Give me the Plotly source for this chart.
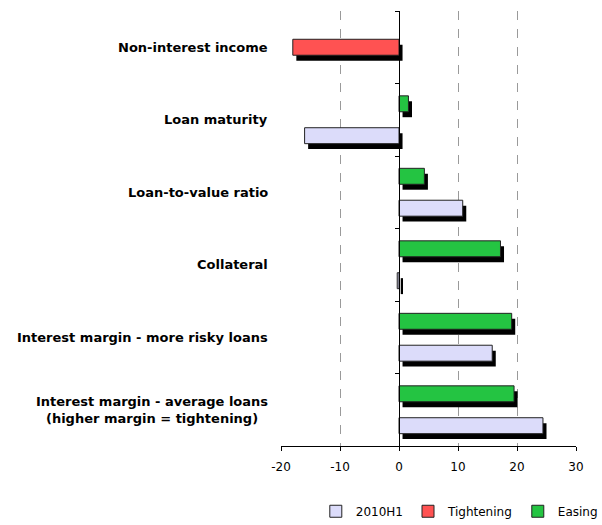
import plotly.graph_objects as go

# Survey factors (top to bottom)
categories = [
    "Non-interest income",
    "Loan maturity",
    "Loan-to-value ratio",
    "Collateral",
    "Interest margin - more risky loans",
    "Interest margin - average loans<br>(higher margin = tightening)",
]
h1_2010 = [None, -16.0, 10.8, -0.3, 15.8, 24.4]
tightening = [-18.0, None, None, None, None, None]
easing = [None, 1.6, 4.3, 17.2, 19.1, 19.5]

x_ticks = [-20, -10, 0, 10, 20, 30]
x_tick_labels = ["-20", "-10", "0", "10", "20", "30"]

series = [
    # name, values, colour, slot offset within the category band, legend rank
    ("Easing", easing, "#24c442", -0.22, 3),
    ("Tightening", tightening, "#ff5252", 0.0, 2),
    ("2010H1", h1_2010, "#dcdcfa", 0.22, 1),
]

BAR_W = 0.22
SHADOW_DX = 0.6     # data units along x
SHADOW_DY = 0.075   # category units along y
FONT = "DejaVu Sans, Arial, sans-serif"

fig = go.Figure()

# drop shadows first so the bars sit on top
for name, vals, colour, off, rank in series:
    ys, xs = [], []
    for i, v in enumerate(vals):
        if v is None:
            continue
        ys.append(i + off + SHADOW_DY)
        xs.append(v)
    fig.add_trace(go.Bar(
        y=ys, x=xs, base=[SHADOW_DX] * len(xs), orientation="h",
        width=BAR_W, marker=dict(color="black", line=dict(width=0)),
        showlegend=False, hoverinfo="skip",
    ))

for name, vals, colour, off, rank in series:
    ys, xs = [], []
    for i, v in enumerate(vals):
        if v is None:
            continue
        ys.append(i + off)
        xs.append(v)
    fig.add_trace(go.Bar(
        y=ys, x=xs, orientation="h", width=BAR_W, name=name,
        marker=dict(color=colour, line=dict(color="#222222", width=1)),
        legendrank=rank,
    ))

# category labels on the left
for i, cat in enumerate(categories):
    fig.add_annotation(
        x=-0.037, xref="paper", y=i, yref="y", text=cat,
        xanchor="right", yanchor="middle", align="center", showarrow=False,
        font=dict(family=FONT, size=13, color="black", weight="bold"),
    )

n = len(categories)
fig.update_layout(
    width=602, height=525,
    margin=dict(l=281, r=26, t=11, b=79, autoexpand=False),
    paper_bgcolor="white", plot_bgcolor="white",
    barmode="overlay",
    font=dict(family=FONT, size=12, color="black"),
    xaxis=dict(
        range=[x_ticks[0], x_ticks[-1]], tickvals=x_ticks, ticktext=x_tick_labels,
        ticks="outside", ticklen=4, tickcolor="black", ticklabelstandoff=6,
        showline=True, linecolor="black", linewidth=1,
        showgrid=True, gridcolor="#9a9a9a", griddash="dash", gridwidth=1,
        zeroline=False, tickfont=dict(size=12),
    ),
    yaxis=dict(
        range=[n - 0.5, -0.5], tickvals=[k - 0.5 for k in range(n + 1)],
        showticklabels=False, ticks="outside", ticklen=4, tickcolor="black",
        showline=True, linecolor="black", linewidth=1,
        showgrid=False, zeroline=False,
        anchor="free", position=(0 - x_ticks[0]) / (x_ticks[-1] - x_ticks[0]),
    ),
    legend=dict(
        orientation="h", x=0.118, xanchor="left", y=-0.15, yanchor="middle",
        font=dict(size=12), bgcolor="rgba(0,0,0,0)", traceorder="normal",
        itemwidth=30,
    ),
)

fig.write_html("out.html")
